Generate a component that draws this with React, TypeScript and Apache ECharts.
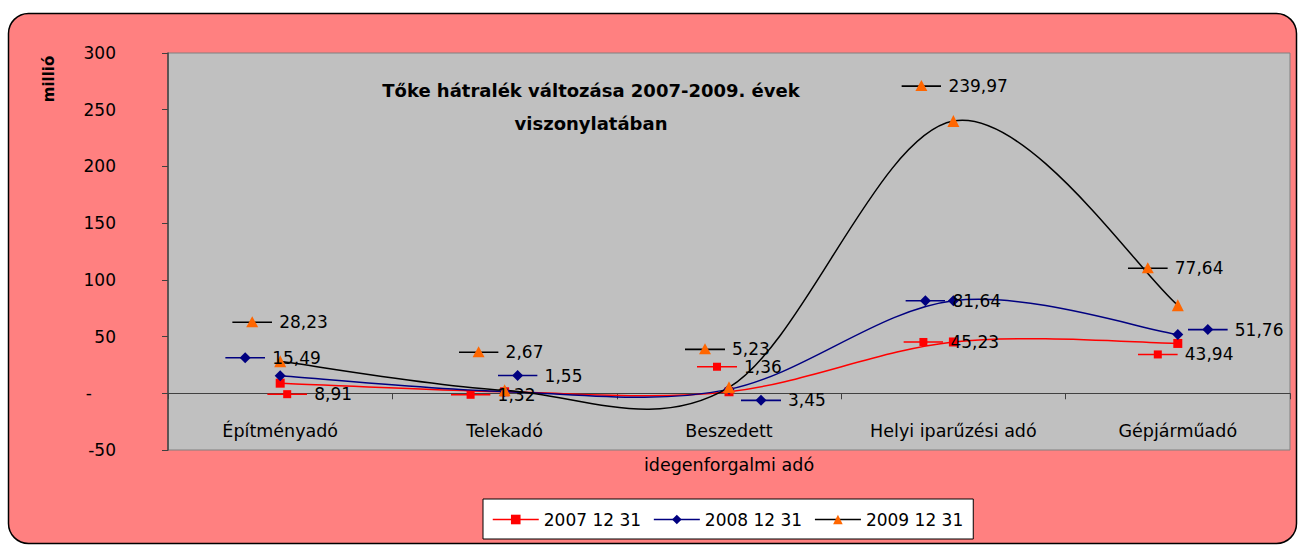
import { useEffect, useRef } from "react";
import * as echarts from "echarts";

const categories = [
  "Építményadó",
  "Telekadó",
  "Beszedett\nidegenforgalmi adó",
  "Helyi iparűzési adó",
  "Gépjárműadó",
];
const seriesNames = ["2007 12 31", "2008 12 31", "2009 12 31"];
const values2007 = [8.91, 1.32, 1.36, 45.23, 43.94];
const values2008 = [15.49, 1.55, 3.45, 81.64, 51.76];
const values2009 = [28.23, 2.67, 5.23, 239.97, 77.64];
const yMin = -50;
const yMax = 300;
const yInterval = 50;
const titleText = "Tőke hátralék változása 2007-2009. évek\nviszonylatában";
const yName = "millió";

// label offsets (pixels from the data point: start of key, vertical centre)
const labelOffsets2007 = [[-13, 11], [-54, 3], [-32, -25], [-50, 0], [-40, 11]];
const labelOffsets2008 = [[-55, -18], [-7, -16], [12, 11], [-48, 0], [10, -5]];
const labelOffsets2009 = [[-48, -39], [-46, -38], [-44, -38], [-52, -35], [-50, -37]];

const FONT = "'DejaVu Sans', sans-serif";

function keyImage(line: string, marker: string, shape: string) {
  let m = "";
  if (shape === "rect") m = `<rect x="16" y="3" width="8" height="8" fill="${marker}"/>`;
  else if (shape === "diamond") m = `<polygon points="20,1.5 25.5,7 20,12.5 14.5,7" fill="${marker}"/>`;
  else m = `<polygon points="20,1 26,12 14,12" fill="${marker}"/>`;
  const svg = `<svg xmlns="http://www.w3.org/2000/svg" width="40" height="14" viewBox="0 0 40 14"><line x1="0" y1="7" x2="40" y2="7" stroke="${line}" stroke-width="1.6"/>${m}</svg>`;
  return "data:image/svg+xml;charset=utf-8," + encodeURIComponent(svg);
}

function fmt(v: number) {
  return v.toFixed(2).replace(".", ",");
}

// Excel-like smoothed curve (Catmull-Rom style Bezier), drawn through the axes' coordinates
function makeCurve(id: string, values: number[], color: string) {
  const n = values.length;
  return {
    id,
    name: id,
    type: "custom",
    z: 2,
    silent: true,
    data: values.map((v, i) => [i, v]),
    encode: { x: 0, y: 1 },
    renderItem: (params: any, api: any) => {
      const i = params.dataIndex;
      if (i >= n - 1) return { type: "group", children: [] };
      const c = (k: number) => {
        const kk = Math.max(0, Math.min(n - 1, k));
        return api.coord([kk, values[kk]]);
      };
      const p0 = c(i - 1);
      const p1 = c(i);
      const p2 = c(i + 1);
      const p3 = c(i + 2);
      return {
        type: "bezierCurve",
        shape: {
          x1: p1[0],
          y1: p1[1],
          x2: p2[0],
          y2: p2[1],
          cpx1: p1[0] + (p2[0] - p0[0]) / 6,
          cpy1: p1[1] + (p2[1] - p0[1]) / 6,
          cpx2: p2[0] - (p3[0] - p1[0]) / 6,
          cpy2: p2[1] - (p3[1] - p1[1]) / 6,
        },
        style: { stroke: color, lineWidth: 1.5, fill: "none" },
      };
    },
  };
}

function makeSeries(
  name: string,
  values: number[],
  offsets: number[][],
  lineColor: string,
  markerColor: string,
  symbol: string,
  symbolSize: number
) {
  const img = keyImage(lineColor, markerColor, symbol);
  return {
    name,
    type: "line",
    z: 3,
    symbol,
    symbolSize,
    lineStyle: { color: lineColor, width: 1.5, opacity: 0 },
    itemStyle: { color: markerColor },
    label: {
      show: true,
      position: "inside",
      align: "left",
      verticalAlign: "middle",
      formatter: (p: any) => `{k| }{t|${fmt(p.value)}}`,
      rich: {
        k: { width: 40, height: 14, backgroundColor: { image: img } },
        t: { fontSize: 17, color: "#000", fontFamily: FONT, padding: [0, 0, 0, 7] },
      },
    },
    data: values.map((v, i) => ({ value: v, label: { offset: offsets[i] } })),
  };
}

export default function App() {
  const ref = useRef<HTMLDivElement>(null);
  useEffect(() => {
    if (!ref.current) return;
    const chart = echarts.init(ref.current, undefined, { renderer: "svg" });
    chart.setOption({
      animation: false,
      backgroundColor: "#FFFFFF",
      textStyle: { fontFamily: FONT },
      graphic: [
        {
          type: "rect",
          z: -10,
          shape: { x: 8.5, y: 13.5, width: 1288, height: 530, r: 20 },
          style: { fill: "#FF8080", stroke: "#000000", lineWidth: 1.5 },
        },
        {
          type: "text",
          z: 10,
          x: 591,
          y: 74,
          style: {
            text: titleText,
            fontSize: 18,
            fontWeight: "bold",
            fontFamily: FONT,
            fill: "#000",
            align: "center",
            textAlign: "center",
            verticalAlign: "top",
            textVerticalAlign: "top",
            lineHeight: 33,
          },
        },
        {
          type: "text",
          z: 10,
          x: 49,
          y: 79,
          rotation: Math.PI / 2,
          style: {
            text: yName,
            fontSize: 15,
            fontWeight: "bold",
            fontFamily: FONT,
            fill: "#000",
            align: "center",
            textAlign: "center",
            verticalAlign: "middle",
            textVerticalAlign: "middle",
          },
        },
      ],
      grid: {
        left: 168,
        right: 8,
        top: 53,
        bottom: 95,
        show: true,
        backgroundColor: "#C0C0C0",
        borderColor: "#808080",
        borderWidth: 1,
      },
      legend: {
        left: 483,
        top: 499,
        data: seriesNames,
        backgroundColor: "#FFFFFF",
        borderColor: "#000000",
        borderWidth: 1,
        borderRadius: 0,
        padding: [12, 10, 11, 9],
        itemGap: 12,
        itemWidth: 46,
        itemHeight: 12,
        lineStyle: { opacity: 1, width: 1.5 },
        textStyle: { fontSize: 17, color: "#000", fontFamily: FONT },
      },
      xAxis: {
        type: "category",
        data: categories,
        boundaryGap: true,
        axisLine: { onZero: true, lineStyle: { color: "#404040", width: 1 } },
        axisTick: { show: true, length: 6, lineStyle: { color: "#404040" } },
        axisLabel: { fontSize: 17.5, color: "#000", margin: -36, lineHeight: 34, fontFamily: FONT, interval: 0 },
        splitLine: { show: false },
      },
      yAxis: {
        type: "value",
        min: yMin,
        max: yMax,
        interval: yInterval,
        axisLine: { show: true, lineStyle: { color: "#404040", width: 1.5 } },
        axisTick: { show: true, length: 6, lineStyle: { color: "#404040" } },
        splitLine: { show: false },
        axisLabel: {
          fontSize: 17,
          color: "#000",
          margin: 52,
          fontFamily: FONT,
          formatter: (v: number) => (v === 0 ? "{z|-}" : String(v)),
          rich: { z: { fontSize: 17, color: "#000", fontFamily: FONT, padding: [0, 24, 0, 0] } },
        },
      },
      series: [
        makeCurve("curve2007", values2007, "#FF0000"),
        makeCurve("curve2008", values2008, "#000080"),
        makeCurve("curve2009", values2009, "#000000"),
        makeSeries(seriesNames[0], values2007, labelOffsets2007, "#FF0000", "#FF0000", "rect", 9),
        makeSeries(seriesNames[1], values2008, labelOffsets2008, "#000080", "#000080", "diamond", 11),
        makeSeries(seriesNames[2], values2009, labelOffsets2009, "#000000", "#FF6600", "triangle", 12),
      ],
    });
    return () => chart.dispose();
  }, []);
  return (
    <div
      ref={ref}
      style={{ position: "absolute", left: 0, top: 0, width: 1298, height: 545 }}
    />
  );
}
